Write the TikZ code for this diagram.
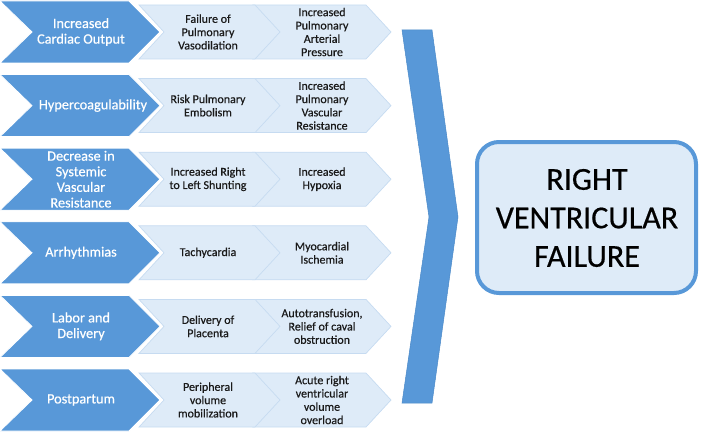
\documentclass[tikz,border=0pt]{standalone}
\usepackage{fontspec}
\setmainfont{Carlito}[FakeBold=0.5]
\definecolor{darkblue}{HTML}{5898D8}
\definecolor{edgeblue}{HTML}{4A89C8}
\definecolor{lightblue}{HTML}{DEEBF8}
\definecolor{lightedge}{HTML}{C6DBF1}
\definecolor{txt}{HTML}{1A1A1A}
\tikzset{
  darkchev/.style={fill=darkblue, draw=white, line width=0.8pt},
  lightchev/.style={fill=lightblue, draw=lightedge, line width=0.7pt},
  darktext/.style={text=white, align=center, font=\fontsize{14.3}{15.6}\selectfont, inner sep=0pt},
  lighttext/.style={text=txt, align=center, font=\fontsize{12}{13.3}\selectfont, inner sep=0pt},
  bigtext/.style={text=black, align=center, font=\fontsize{32}{38.5}\selectfont, inner sep=0pt},
}
\begin{document}
\begin{tikzpicture}[x=1pt,y=-1pt]
\useasboundingbox (0,0) rectangle (701,433);
\foreach \i/\dx/\A/\B/\C in {
  1/81/{Increased\\Cardiac Output}/{Failure of\\Pulmonary\\Vasodilation}/{Increased\\Pulmonary\\Arterial\\Pressure},
  2/93/{Hypercoagulability}/{Risk Pulmonary\\Embolism}/{Increased\\Pulmonary\\Vascular\\Resistance},
  3/81/{Decrease in\\Systemic\\Vascular\\Resistance}/{Increased Right\\to Left Shunting}/{Increased\\Hypoxia},
  4/81/{Arrhythmias}/{Tachycardia}/{Myocardial\\Ischemia},
  5/81/{Labor and\\Delivery}/{Delivery of\\Placenta}/{Autotransfusion,\\Relief of caval\\obstruction},
  6/81/{Postpartum}/{Peripheral\\volume\\mobilization}/{Acute right\\ventricular\\volume\\overload}}{
  \pgfmathsetmacro{\c}{32+73.6*(\i-1)}
  % second light chevron
  \path[lightchev] (253,\c-27) -- (366,\c-27) -- (391,\c) -- (366,\c+27) -- (253,\c+27) -- (278,\c) -- cycle;
  % first light chevron
  \path[lightchev] (139,\c-27) -- (255,\c-27) -- (280,\c) -- (255,\c+27) -- (139,\c+27) -- (164,\c) -- cycle;
  % dark chevron
  \path[darkchev] (0,\c-31) -- (129,\c-31) -- (160,\c) -- (129,\c+31) -- (0,\c+31) -- (32,\c) -- cycle;
  \node[darktext]  (d\i) at (\dx,\c) {\A};
  \node[lighttext] (a\i) at (208,\c) {\B};
  \node[lighttext] (b\i) at (322,\c) {\C};
}
% big chevron
\path[fill=darkblue, draw=edgeblue, line width=0.5pt]
  (402,30) -- (432,30) -- (458,217) -- (432,403) -- (402,403) -- (429,217) -- cycle;
% result box
\draw[fill=lightblue, draw=darkblue, line width=4pt, rounded corners=22pt]
  (477,142) rectangle (696,293);
\node[bigtext] (rvf) at (587,218) {RIGHT\\VENTRICULAR\\FAILURE};
\end{tikzpicture}
\end{document}
